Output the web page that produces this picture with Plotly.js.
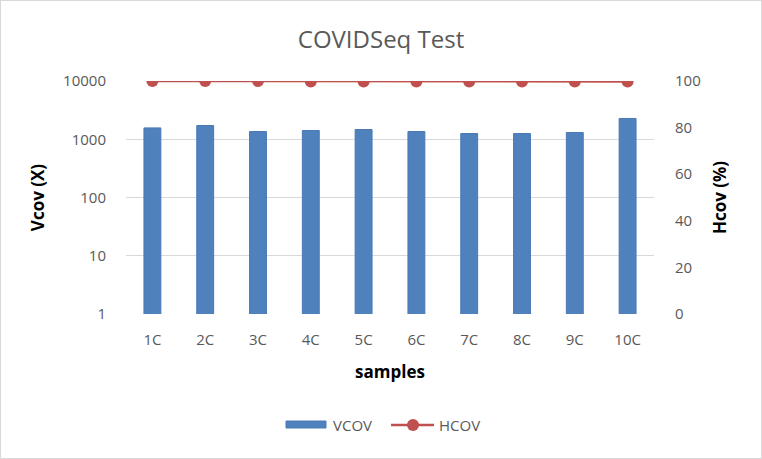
<!DOCTYPE html>
<html><head><meta charset="utf-8">
<script src="https://cdn.plot.ly/plotly-3.0.1.min.js"></script>
<style>
html,body{margin:0;padding:0;background:#fff;}
#wrap{position:absolute;left:0;top:0;width:760px;height:457px;border:1px solid #d9d9d9;}
#chart{position:absolute;left:-1px;top:-1px;width:762px;height:459px;}
</style></head>
<body><div id="wrap"><div id="chart"></div></div>
<script>
const samples = ['1C','2C','3C','4C','5C','6C','7C','8C','9C','10C'];
const vcov = [1566, 1722, 1358, 1413, 1470, 1358, 1254, 1254, 1305, 2275];
const hcov = [100, 100, 100, 99.8, 99.8, 99.8, 99.8, 99.8, 99.8, 99.8];
const logTicks = [1, 10, 100, 1000, 10000];
const logTickText = ['1', '10', '100', '1000', '10000'];
const pctTicks = [0, 20, 40, 60, 80, 100];
const seriesNames = ['VCOV', 'HCOV'];

const font = "'Open Sans', 'Noto Sans', sans-serif";
const grey = '#595959';
const blue = '#4f81bd', red = '#c0504d';
const W = 762, H = 459;

const traces = [
  {type:'bar', x:samples, y:vcov, name:seriesNames[0], yaxis:'y',
   marker:{color:blue, line:{color:'#4a7ab5', width:1}}, width:0.32, showlegend:false},
  {type:'scatter', mode:'lines+markers', x:samples, y:hcov, name:seriesNames[1], yaxis:'y2',
   line:{color:red, width:2.5}, marker:{color:red, size:12}, showlegend:false}
];

// plot area: x 126..654, y 81..314
const L = 126, R = W - 654, T = 81, B = H - 314;
const pw = W - L - R, ph = H - T - B;
const lx = v => (v - L) / pw, ly = v => (H - B - v) / ph;

const layout = {
  width:W, height:H,
  margin:{l:L, r:R, t:T, b:B},
  paper_bgcolor:'rgba(0,0,0,0)', plot_bgcolor:'#fff',
  font:{family:font, color:grey, size:14},
  showlegend:false,
  title:{text:'COVIDSeq Test', font:{family:font, size:24, color:grey},
         x:0.5, xanchor:'center', y:1-40/H, yanchor:'middle', yref:'container'},
  xaxis:{type:'category', range:[-0.5, samples.length - 0.5], showgrid:false, zeroline:false,
         showline:false, automargin:false,
         ticks:'outside', ticklen:12, tickcolor:'rgba(0,0,0,0)',
         tickfont:{size:15, color:grey},
         title:{text:'samples', font:{size:17, color:'#000', weight:'bold'}, standoff:18}},
  yaxis:{type:'log', range:[0,4], tickvals:logTicks, ticktext:logTickText, automargin:false,
         showgrid:true, gridcolor:'#d9d9d9', gridwidth:1, zeroline:false, showline:false,
         ticks:'outside', ticklen:16, tickcolor:'rgba(0,0,0,0)',
         tickfont:{size:15, color:grey},
         title:{text:'Vcov (X)', font:{size:17, color:'#000', weight:'bold'}, standoff:14}},
  yaxis2:{overlaying:'y', side:'right', range:[0,100], tickvals:pctTicks, automargin:false,
          showgrid:false, zeroline:false, showline:false,
          ticks:'outside', ticklen:17, tickcolor:'rgba(0,0,0,0)',
          tickfont:{size:15, color:grey},
          title:{text:'Hcov (%)', font:{size:17, color:'#000', weight:'bold'}, standoff:14}},
  shapes:[
    {type:'rect', xref:'paper', yref:'paper', x0:lx(286), x1:lx(326), y0:ly(428), y1:ly(421),
     fillcolor:blue, line:{color:'#4a7ab5', width:1}},
    {type:'line', xref:'paper', yref:'paper', x0:lx(391), x1:lx(434), y0:ly(425), y1:ly(425),
     line:{color:red, width:2.5}},
    {type:'circle', xref:'paper', yref:'paper', x0:lx(407), x1:lx(419), y0:ly(431), y1:ly(419),
     fillcolor:red, line:{color:red, width:0}}
  ],
  annotations:[
    {xref:'paper', yref:'paper', x:lx(331), y:ly(425), xanchor:'left', yanchor:'middle',
     text:seriesNames[0], showarrow:false, font:{size:15, color:grey}},
    {xref:'paper', yref:'paper', x:lx(437), y:ly(425), xanchor:'left', yanchor:'middle',
     text:seriesNames[1], showarrow:false, font:{size:15, color:grey}}
  ]
};

Plotly.newPlot('chart', traces, layout, {displayModeBar:false, staticPlot:true});
</script></body></html>
